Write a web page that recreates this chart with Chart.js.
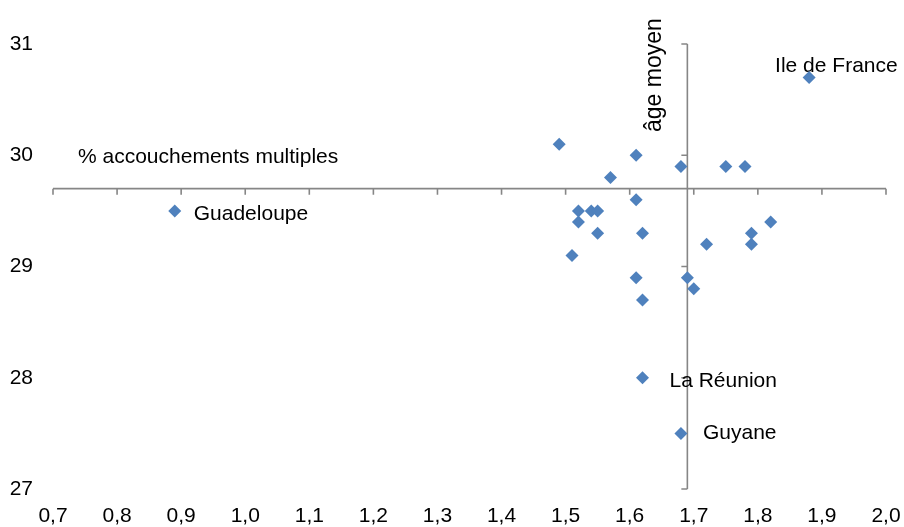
<!DOCTYPE html>
<html>
<head>
<meta charset="utf-8">
<script src="https://cdn.jsdelivr.net/npm/chart.js@4.4.1/dist/chart.umd.min.js"></script>
<style>
html,body{margin:0;padding:0;background:#fff;}
#wrap{width:904px;height:527px;}
</style>
</head>
<body>
<div id="wrap"><canvas id="c" width="904" height="527"></canvas></div>
<script>
// ---- data ----
const regionLabels = ['Ile de France','','','','','','','','','','','','','','','','','','','','','','','La Réunion','Guyane','Guadeloupe'];
const multiples = [1.88,1.49,1.61,1.68,1.75,1.78,1.57,1.61,1.52,1.54,1.55,1.52,1.82,1.55,1.62,1.79,1.72,1.79,1.51,1.61,1.69,1.70,1.62,1.62,1.68,0.89];
const ageMoyen  = [30.7,30.1,30.0,29.9,29.9,29.9,29.8,29.6,29.5,29.5,29.5,29.4,29.4,29.3,29.3,29.3,29.2,29.2,29.1,28.9,28.9,28.8,28.7,28.0,27.5,29.5];
const xTickValues = [0.7,0.8,0.9,1.0,1.1,1.2,1.3,1.4,1.5,1.6,1.7,1.8,1.9,2.0];
const yTickValues = [27,28,29,30,31];
const xAxisTitle = '% accouchements multiples';
const yAxisTitle = 'âge moyen';
const crossAt = { x: 1.69, y: 29.7 };

// ---- styles ----
const FONT = '"Liberation Sans", Arial, sans-serif';
const FSIZE = 21;
const AXIS_COLOR = '#868686';
const MARK_COLOR = '#4F81BD';
const labelOffsets = {
  'Ile de France': [-34, -11],
  'La Réunion': [27, 3],
  'Guyane': [22, 0],
  'Guadeloupe': [19, 3.5]
};

const points = multiples.map((x, i) => ({ x: x, y: ageMoyen[i] }));

const crossAxesPlugin = {
  id: 'crossAxes',
  beforeDatasetsDraw(chart) {
    const ctx = chart.ctx;
    const xs = chart.scales.x, ys = chart.scales.y;
    const axY = ys.getPixelForValue(crossAt.y);
    const axX = xs.getPixelForValue(crossAt.x);
    const x0 = xs.getPixelForValue(xTickValues[0]);
    const x1 = xs.getPixelForValue(xTickValues[xTickValues.length - 1]);
    const y0 = ys.getPixelForValue(yTickValues[0]);
    const y1 = ys.getPixelForValue(yTickValues[yTickValues.length - 1]);
    ctx.save();
    ctx.strokeStyle = AXIS_COLOR;
    ctx.lineWidth = 1.6;
    ctx.beginPath();
    ctx.moveTo(x0, axY); ctx.lineTo(x1, axY);
    xTickValues.forEach(v => {
      const p = xs.getPixelForValue(v);
      ctx.moveTo(p, axY); ctx.lineTo(p, axY + 6);
    });
    ctx.moveTo(axX, y0); ctx.lineTo(axX, y1);
    yTickValues.forEach(v => {
      const p = ys.getPixelForValue(v);
      ctx.moveTo(axX, p); ctx.lineTo(axX - 6, p);
    });
    ctx.stroke();

    ctx.fillStyle = '#000';
    ctx.font = FSIZE + 'px ' + FONT;
    // horizontal axis title
    ctx.textAlign = 'left';
    ctx.textBaseline = 'middle';
    ctx.fillText(xAxisTitle, chart.chartArea.left + 25, axY - 31);
    // vertical axis title (rotated)
    ctx.save();
    ctx.font = '23px ' + FONT;
    ctx.translate(axX - 26.5, chart.chartArea.top + 88);
    ctx.rotate(-Math.PI / 2);
    ctx.textBaseline = 'alphabetic';
    ctx.textAlign = 'left';
    ctx.fillText(yAxisTitle, 0, 0);
    ctx.restore();

    // point labels
    const meta = chart.getDatasetMeta(0);
    ctx.textBaseline = 'middle';
    ctx.textAlign = 'left';
    regionLabels.forEach((name, i) => {
      if (!name) return;
      const el = meta.data[i];
      const off = labelOffsets[name] || [10, 0];
      ctx.fillText(name, el.x + off[0], el.y + off[1]);
    });
    ctx.restore();
  }
};

new Chart(document.getElementById('c'), {
  type: 'scatter',
  data: {
    datasets: [{
      data: points,
      pointStyle: 'rectRot',
      pointRadius: 6.5,
      pointBackgroundColor: MARK_COLOR,
      pointBorderColor: MARK_COLOR,
      pointBorderWidth: 0
    }]
  },
  options: {
    responsive: false,
    animation: false,
    devicePixelRatio: 1,
    layout: { padding: { top: 44, right: 18, left: 0, bottom: 0 } },
    plugins: { legend: { display: false }, tooltip: { enabled: false } },
    scales: {
      x: {
        type: 'linear',
        min: 0.7, max: 2.0,
        afterBuildTicks: s => { s.ticks = xTickValues.map(v => ({ value: v })); },
        afterFit: s => { s.height = 38; s.paddingLeft = 0; s.paddingRight = 0; },
        grid: { display: false, drawTicks: false },
        border: { display: false },
        ticks: {
          padding: 15,
          maxRotation: 0,
          autoSkip: false,
          color: '#000',
          font: { family: FONT, size: FSIZE },
          callback: v => Number(v).toFixed(1).replace('.', ',')
        }
      },
      y: {
        type: 'linear',
        min: 27, max: 31,
        afterBuildTicks: s => { s.ticks = yTickValues.map(v => ({ value: v })); },
        afterFit: s => { s.width = 53; s.paddingTop = 0; s.paddingBottom = 0; },
        grid: { display: false, drawTicks: false },
        border: { display: false },
        ticks: {
          padding: 20,
          autoSkip: false,
          color: '#000',
          font: { family: FONT, size: FSIZE },
          callback: v => String(v)
        }
      }
    }
  },
  plugins: [crossAxesPlugin]
});
</script>
</body>
</html>
